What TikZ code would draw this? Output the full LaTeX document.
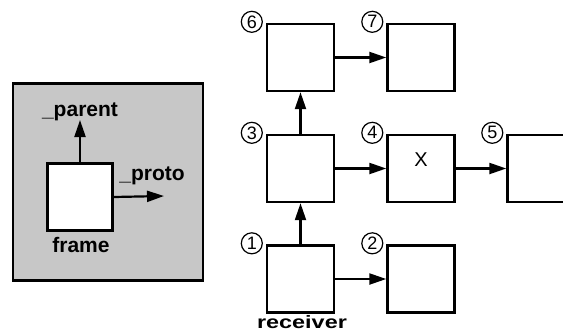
\documentclass[tikz,border=0pt]{standalone}
\usepackage{fontspec}
\setmainfont{Liberation Sans}
\usetikzlibrary{arrows.meta}

\begin{document}
\begin{tikzpicture}[x=1pt, y=-1pt,
    cell/.style={draw, line width=2.4pt, fill=white, minimum width=67pt, minimum height=67pt, inner sep=0pt},
    link/.style={-{Triangle[length=17pt,width=11pt]}, line width=2.2pt},
    tag/.style={font=\bfseries\fontsize{21}{21}\selectfont, inner sep=0pt},
    num/.style={circle, draw, line width=1.2pt, minimum size=21pt, inner sep=0pt, font=\fontsize{18}{18}\selectfont}]
    \useasboundingbox (0,0) rectangle (563,333);

    % Draw the frame on its shaded ground
    \node[draw, line width=2.4pt, fill=black!22, minimum width=190pt, minimum height=197pt] (ground) at (108,182) {};
    \node[cell, minimum width=65pt] (fr) at (80,197) {};
    \coordinate (ptip) at (80,120);
    \coordinate (qtip) at (164,196);
    \draw[link] (fr.north) -- (ptip);
    \draw[link] (fr.east) -- (qtip);
    \node[tag, anchor=south] (parentlbl) at ([yshift=-1pt]ptip) {\_parent};
    \node[tag] (protolbl) at (152,176) {\_proto};
    \node[tag] (framelbl) at (81,245) {frame};

    % Draw the numbered boxes
    \foreach \n/\x/\y in {
        1/300.5/279, 2/421/279,
        3/300.5/168.5, 4/421/168.5, 5/541/168.5,
        6/300.5/57.5, 7/421/57.5
    } {
        \node[cell] (b\n) at (\x,\y) {};
        \node[num] (n\n) at ([xshift=-14pt,yshift=1pt]b\n.north west) {\n};
    }
    \node[font=\fontsize{20}{20}\selectfont] (xmark) at (421,160) {X};

    % Draw the links between them
    \draw[link] (b1.north) -- (b3.south);
    \draw[link] (b3.north) -- (b6.south);
    \draw[link] (b1.east) -- (b2.west);
    \draw[link] (b3.east) -- (b4.west);
    \draw[link] (b4.east) -- (b5.west);
    \draw[link] (b6.east) -- (b7.west);

    \node[tag, font=\bfseries\fontsize{18}{18}\selectfont, xscale=1.3, transform shape] (recv) at (302,322) {receiver};
\end{tikzpicture}
\end{document}
